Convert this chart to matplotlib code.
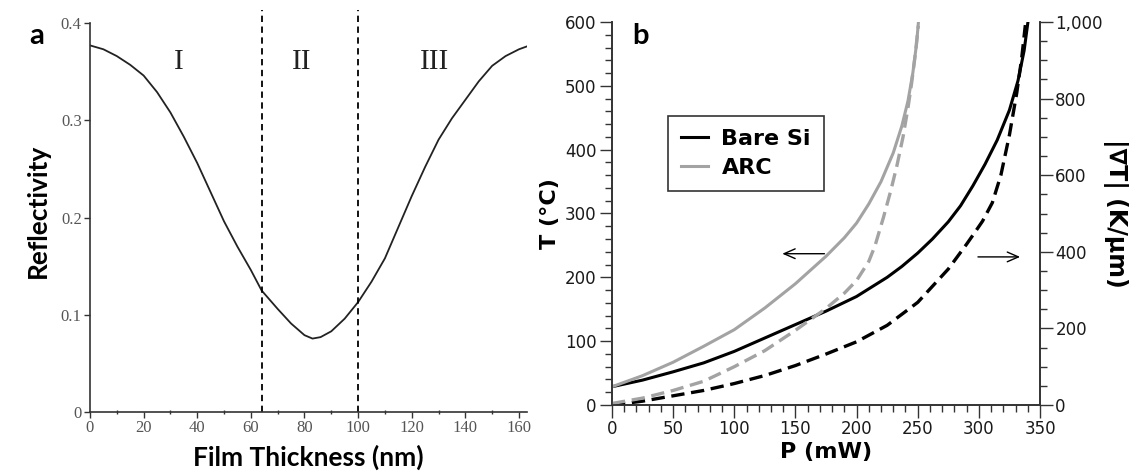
import matplotlib
matplotlib.use("Agg")
import matplotlib.pyplot as plt
from matplotlib.ticker import MultipleLocator, FuncFormatter, FixedLocator

# ---------------- data ----------------
# panel a: reflectivity vs film thickness
thickness_nm = [0, 5, 10, 15, 20, 25, 30, 35, 40, 45, 50, 55, 60, 64, 70, 75, 80, 83, 86,
                90, 95, 100, 105, 110, 115, 120, 125, 130, 135, 140, 145, 150, 155, 160, 163]
reflectivity = [0.377, 0.373, 0.366, 0.357, 0.346, 0.329, 0.308, 0.283, 0.256, 0.226, 0.196,
                0.170, 0.146, 0.125, 0.106, 0.091, 0.079, 0.0755, 0.077, 0.083, 0.096, 0.113,
                0.134, 0.158, 0.190, 0.222, 0.252, 0.280, 0.302, 0.321, 0.340, 0.356, 0.366,
                0.373, 0.376]
region_bounds = [64, 100]
region_labels = ["I", "II", "III"]
region_label_x = [33, 79, 128.5]
region_label_y = 0.36

# panel b: temperature (left axis) and gradient (right axis) vs power
p_bare_T = [0, 25, 50, 75, 100, 125, 150, 175, 200, 225, 237, 250, 262, 275, 285, 295, 305,
            315, 325, 332, 337, 340]
T_bare = [28.6, 39, 52, 66, 84, 105, 126, 147, 170, 200, 217, 238, 260, 287, 312, 343, 377,
          415, 462, 508, 555, 598]

p_arc_T = [0, 25, 50, 75, 100, 125, 150, 175, 190, 200, 210, 220, 230, 237, 242, 246, 249, 250.5]
T_arc = [28.6, 46, 67, 92, 118, 152, 190, 233, 262, 285, 315, 350, 395, 437, 476, 520, 565, 598]

p_bare_G = [0, 25, 50, 75, 100, 125, 150, 175, 200, 225, 250, 275, 290, 297, 303, 311, 318,
            325, 331, 335, 338]
G_bare = [0, 10, 24, 38, 56, 77, 103, 133, 165, 208, 268, 355, 420, 452, 480, 528, 600, 705,
          815, 905, 992]

p_arc_G = [0, 25, 50, 75, 100, 125, 150, 175, 190, 200, 210, 215, 222, 228, 233, 238, 242,
           245, 248, 250.5]
G_arc = [4, 18, 38, 62, 100, 142, 195, 252, 292, 325, 375, 415, 490, 560, 625, 700, 775, 840,
         915, 990]

series_names = ["Bare Si", "ARC"]

# ---------------- figure ----------------
fig = plt.figure(figsize=(11.38, 4.72), dpi=100)
W, H = 1138, 472

def frac(x0, y0, x1, y1):
    return [x0 / W, 1 - y1 / H, (x1 - x0) / W, (y1 - y0) / H]

# ---------- panel a ----------
axa = fig.add_axes(frac(90, 10, 527, 412))
axa.plot(thickness_nm, reflectivity, color="#222222", lw=1.3)
for xb in region_bounds:
    axa.axvline(xb, color="black", lw=1.3, dashes=(3.5, 2.5))
for lab, xl in zip(region_labels, region_label_x):
    axa.text(xl, region_label_y, lab, family="Liberation Serif", fontsize=21,
             ha="center", va="center", color="#222222")
axa.set_xlim(0, 163)
axa.set_ylim(0, 0.4 + 13 / 970)
axa.spines["top"].set_visible(False)
axa.spines["right"].set_visible(False)
axa.spines["left"].set_bounds(0, 0.4)
for s in ("left", "bottom"):
    axa.spines[s].set_color("#333333")
    axa.spines[s].set_linewidth(1.2)
axa.xaxis.set_major_locator(MultipleLocator(20))
axa.xaxis.set_minor_locator(MultipleLocator(10))
axa.yaxis.set_major_locator(FixedLocator([0, 0.1, 0.2, 0.3, 0.4]))
axa.yaxis.set_major_formatter(FuncFormatter(lambda v, p: "0" if abs(v) < 1e-9 else f"{v:.1f}"))
axa.tick_params(axis="both", which="major", direction="out", length=4, width=1,
                color="#333333", labelsize=12, labelcolor="#555555", pad=2)
axa.tick_params(axis="x", which="minor", direction="inout", length=3, width=1, color="#333333")
for lab in axa.get_xticklabels() + axa.get_yticklabels():
    lab.set_family("Liberation Serif")
axa.set_xlabel("Film Thickness (nm)", family="Lato", fontweight="bold", fontsize=19,
               labelpad=6)
axa.set_ylabel("Reflectivity", family="Lato", fontweight="bold", fontsize=19, labelpad=8)
fig.text(37 / W, 1 - 36 / H, "a", family="Lato", fontweight="bold", fontsize=21,
         ha="center", va="center")

# ---------- panel b ----------
gray = "#a3a3a3"
axb = fig.add_axes(frac(612, 22, 1040, 405))
axb.plot(p_bare_T, T_bare, color="black", lw=2.2, label=series_names[0])
axb.plot(p_arc_T, T_arc, color=gray, lw=2.2, label=series_names[1])
axb.set_xlim(0, 350)
axb.set_ylim(0, 600)
axr = axb.twinx()
axr.plot(p_bare_G, G_bare, color="black", lw=2.4, dashes=(4, 2))
axr.plot(p_arc_G, G_arc, color=gray, lw=2.4, dashes=(4, 2))
axr.set_ylim(0, 1000)

axb.spines["top"].set_visible(False)
axr.spines["top"].set_visible(False)
for a in (axb, axr):
    for s in a.spines.values():
        s.set_color("#333333")
        s.set_linewidth(1.2)

axb.xaxis.set_major_locator(MultipleLocator(50))
axb.xaxis.set_minor_locator(MultipleLocator(10))
axb.yaxis.set_major_locator(MultipleLocator(100))
axb.yaxis.set_minor_locator(MultipleLocator(20))
axr.yaxis.set_major_locator(MultipleLocator(200))
axr.yaxis.set_minor_locator(MultipleLocator(50))
axr.yaxis.set_major_formatter(FuncFormatter(lambda v, p: f"{int(v):,}"))

for a in (axb, axr):
    a.tick_params(which="major", direction="out", length=9, width=1, color="#333333",
                  labelsize=12, labelcolor="#1a1a1a", pad=2)
    a.tick_params(which="minor", direction="out", length=5, width=1, color="#333333")
    for lab in a.get_xticklabels() + a.get_yticklabels():
        lab.set_family("DejaVu Sans")

axb.set_xlabel("P (mW)", family="DejaVu Sans", fontweight="bold", fontsize=16, labelpad=3)
axb.set_ylabel("T (°C)", family="DejaVu Sans", fontweight="bold", fontsize=16, labelpad=4)
axr.set_ylabel("|\u2207T| (K/\u03bcm)", family="DejaVu Sans", fontweight="bold", fontsize=17,
               rotation=270, labelpad=18)

leg = axb.legend(loc="upper left", bbox_to_anchor=(0.131, 0.755), borderaxespad=0,
                 fancybox=False, edgecolor="#333333", framealpha=1,
                 prop={"family": "DejaVu Sans", "weight": "bold", "size": 16},
                 handlelength=1.2, handletextpad=0.6, borderpad=0.6, labelspacing=0.4)
leg.get_frame().set_linewidth(1.2)

axb.annotate("", xy=(137, 237), xytext=(176, 237),
             arrowprops=dict(arrowstyle="->,head_length=0.8,head_width=0.35", lw=1, color="black"))
axb.annotate("", xy=(336, 232), xytext=(297, 232),
             arrowprops=dict(arrowstyle="->,head_length=0.8,head_width=0.35", lw=1, color="black"))
fig.text(640 / W, 1 - 36 / H, "b", family="Lato", fontweight="bold", fontsize=21,
         ha="center", va="center")

fig.savefig("out.png", dpi=100)
